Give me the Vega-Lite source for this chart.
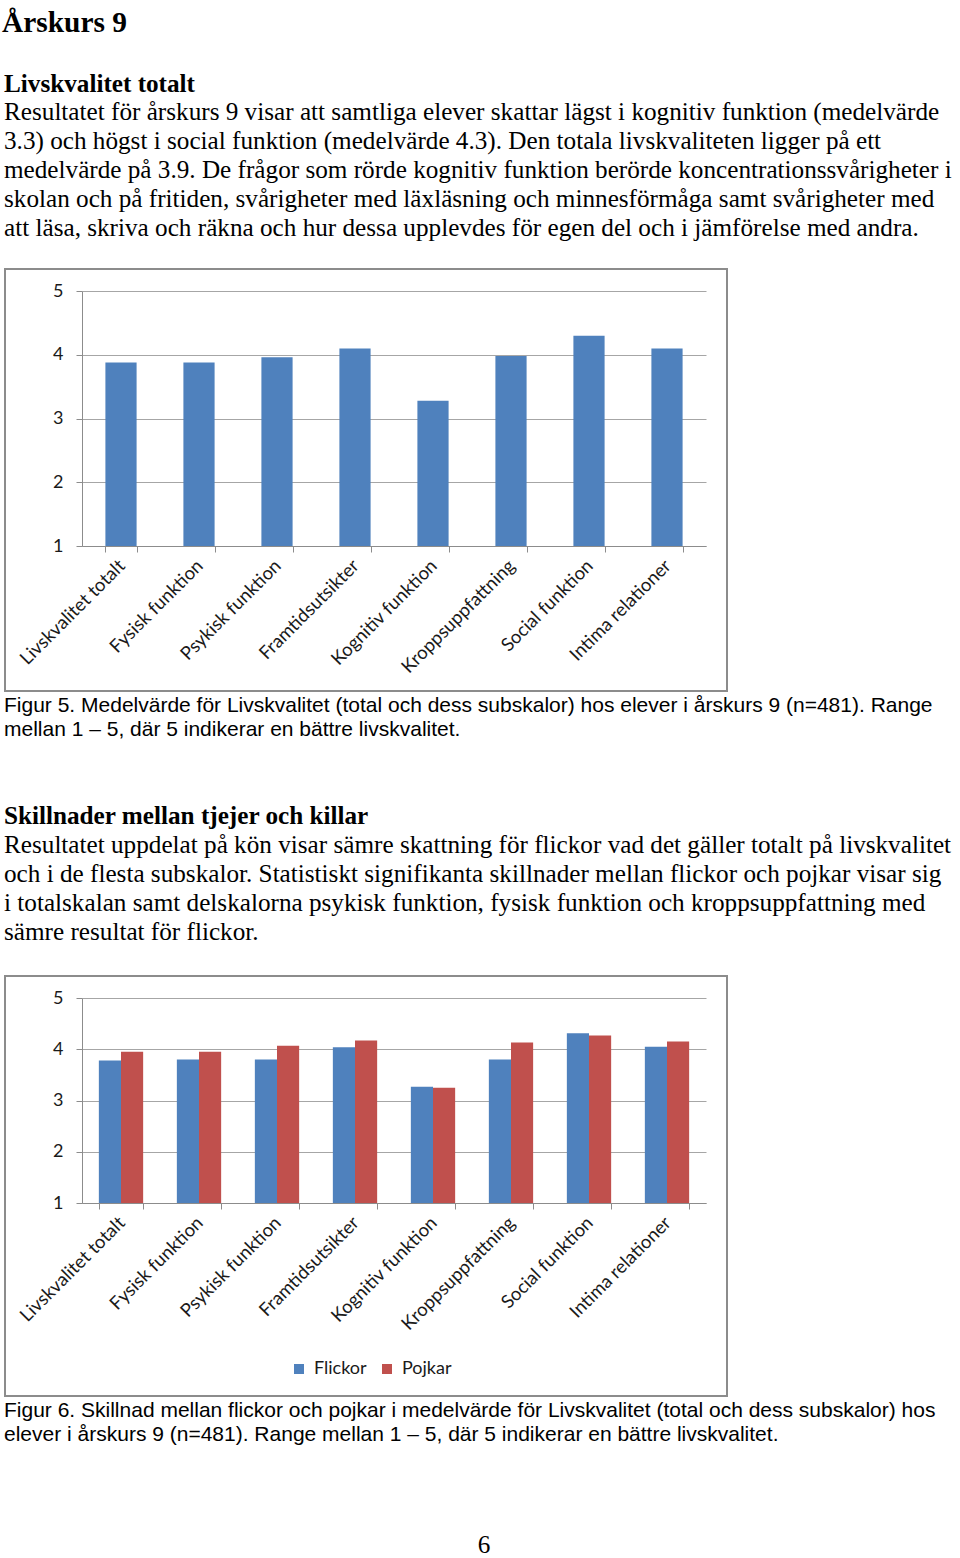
{
  "$schema": "https://vega.github.io/schema/vega-lite/v6.json",
  "background": "white",
  "padding": {"left": 2, "top": 8, "right": 0, "bottom": 0},
  "spacing": 3,
  "title": {"text": "Årskurs 9", "anchor": "start", "font": "Liberation Serif", "fontSize": 29.4, "fontWeight": "bold", "color": "#000000", "offset": 32, "dx": -1},
  "datasets": {
    "overall": [
      {"skala": "Livskvalitet totalt", "medel": 3.88},
      {"skala": "Fysisk funktion", "medel": 3.88},
      {"skala": "Psykisk funktion", "medel": 3.96},
      {"skala": "Framtidsutsikter", "medel": 4.10},
      {"skala": "Kognitiv funktion", "medel": 3.28},
      {"skala": "Kroppsuppfattning", "medel": 3.98},
      {"skala": "Social funktion", "medel": 4.30},
      {"skala": "Intima relationer", "medel": 4.10}
    ],
    "kon": [
      {"skala": "Livskvalitet totalt", "kon": "Flickor", "medel": 3.78},
      {"skala": "Livskvalitet totalt", "kon": "Pojkar", "medel": 3.95},
      {"skala": "Fysisk funktion", "kon": "Flickor", "medel": 3.80},
      {"skala": "Fysisk funktion", "kon": "Pojkar", "medel": 3.95},
      {"skala": "Psykisk funktion", "kon": "Flickor", "medel": 3.80},
      {"skala": "Psykisk funktion", "kon": "Pojkar", "medel": 4.07},
      {"skala": "Framtidsutsikter", "kon": "Flickor", "medel": 4.04},
      {"skala": "Framtidsutsikter", "kon": "Pojkar", "medel": 4.17},
      {"skala": "Kognitiv funktion", "kon": "Flickor", "medel": 3.27},
      {"skala": "Kognitiv funktion", "kon": "Pojkar", "medel": 3.25},
      {"skala": "Kroppsuppfattning", "kon": "Flickor", "medel": 3.80},
      {"skala": "Kroppsuppfattning", "kon": "Pojkar", "medel": 4.13},
      {"skala": "Social funktion", "kon": "Flickor", "medel": 4.31},
      {"skala": "Social funktion", "kon": "Pojkar", "medel": 4.27},
      {"skala": "Intima relationer", "kon": "Flickor", "medel": 4.05},
      {"skala": "Intima relationer", "kon": "Pojkar", "medel": 4.15}
    ]
  },
  "vconcat": [
    {
      "width": 722,
      "height": 422,
      "view": {"stroke": "#8c8c8c", "strokeWidth": 2},
      "title": {
        "text": "Livskvalitet totalt",
        "subtitle": [
          "Resultatet för årskurs 9 visar att samtliga elever skattar lägst i kognitiv funktion (medelvärde",
          "3.3) och högst i social funktion (medelvärde 4.3). Den totala livskvaliteten ligger på ett",
          "medelvärde på 3.9. De frågor som rörde kognitiv funktion berörde koncentrationssvårigheter i",
          "skolan och på fritiden, svårigheter med läxläsning och minnesförmåga samt svårigheter med",
          "att läsa, skriva och räkna och hur dessa upplevdes för egen del och i jämförelse med andra."
        ],
        "anchor": "start",
        "dx": -1,
        "font": "Liberation Serif",
        "fontSize": 25.2,
        "fontWeight": "bold",
        "color": "#000000",
        "subtitleFont": "Liberation Serif",
        "subtitleFontSize": 25.2,
        "subtitleFontWeight": "normal",
        "subtitleColor": "#000000",
        "subtitleLineHeight": 29,
        "subtitlePadding": 3,
        "offset": 28
      },
      "data": {"name": "overall"},
      "mark": {"type": "bar", "color": "#4f81bd"},
      "encoding": {
        "x": {
          "field": "skala", "type": "nominal", "sort": null,
          "scale": {"range": [77, 701], "paddingInner": 0.6, "paddingOuter": 0.3},
          "axis": {"title": null, "orient": "bottom", "offset": -145, "labelAngle": -45, "labelFont": "Lato", "labelFontSize": 18.5, "labelColor": "#1a1a1a", "labelPadding": 4, "labelOffset": -6, "tickBand": "extent", "tickSize": 6, "tickColor": "#8c8c8c", "domainColor": "#8c8c8c", "grid": false}
        },
        "y": {
          "field": "medel", "type": "quantitative",
          "scale": {"domain": [1, 5], "range": [277, 22], "nice": false, "zero": false},
          "axis": {"title": null, "values": [1, 2, 3, 4, 5], "offset": -77, "grid": true, "gridColor": "#a6a6a6", "tickSize": 6, "tickColor": "#8c8c8c", "domainColor": "#8c8c8c", "labelFont": "Lato", "labelFontSize": 18, "labelColor": "#1a1a1a", "labelPadding": 13}
        },
        "y2": {"datum": 1}
      }
    },
    {
      "width": 722,
      "height": 51,
      "view": {"stroke": null},
      "title": {
        "text": [
          "Figur 5. Medelvärde för Livskvalitet (total och dess subskalor) hos elever i årskurs 9 (n=481). Range",
          "mellan 1 – 5, där 5 indikerar en bättre livskvalitet."
        ],
        "anchor": "start",
        "dx": -1,
        "font": "Liberation Sans",
        "fontSize": 21,
        "fontWeight": "normal",
        "color": "#000000",
        "lineHeight": 24,
        "offset": 8
      },
      "data": {"values": []},
      "mark": "point"
    },
    {
      "width": 722,
      "height": 420,
      "view": {"stroke": "#8c8c8c", "strokeWidth": 2},
      "title": {
        "text": "Skillnader mellan tjejer och killar",
        "subtitle": [
          "Resultatet uppdelat på kön visar sämre skattning för flickor vad det gäller totalt på livskvalitet",
          "och i de flesta subskalor. Statistiskt signifikanta skillnader mellan flickor och pojkar visar sig",
          "i totalskalan samt delskalorna psykisk funktion, fysisk funktion och kroppsuppfattning med",
          "sämre resultat för flickor."
        ],
        "anchor": "start",
        "dx": -1,
        "font": "Liberation Serif",
        "fontSize": 25.2,
        "fontWeight": "bold",
        "color": "#000000",
        "subtitleFont": "Liberation Serif",
        "subtitleFontSize": 25.2,
        "subtitleFontWeight": "normal",
        "subtitleColor": "#000000",
        "subtitleLineHeight": 29,
        "subtitlePadding": 4,
        "offset": 31
      },
      "data": {"name": "kon"},
      "mark": {"type": "bar"},
      "encoding": {
        "x": {
          "field": "skala", "type": "nominal", "sort": null,
          "scale": {"range": [77, 701], "paddingInner": 0.432, "paddingOuter": 0.216},
          "axis": {"title": null, "orient": "bottom", "offset": -193, "labelAngle": -45, "labelFont": "Lato", "labelFontSize": 18.5, "labelColor": "#1a1a1a", "labelPadding": 4, "labelOffset": -6, "tickBand": "extent", "tickSize": 6, "tickColor": "#8c8c8c", "domainColor": "#8c8c8c", "grid": false}
        },
        "xOffset": {"field": "kon", "type": "nominal", "sort": ["Flickor", "Pojkar"], "scale": {"paddingInner": 0, "paddingOuter": 0}},
        "y": {
          "field": "medel", "type": "quantitative",
          "scale": {"domain": [1, 5], "range": [227, 22], "nice": false, "zero": false},
          "axis": {"title": null, "values": [1, 2, 3, 4, 5], "offset": -77, "grid": true, "gridColor": "#a6a6a6", "tickSize": 6, "tickColor": "#8c8c8c", "domainColor": "#8c8c8c", "labelFont": "Lato", "labelFontSize": 18, "labelColor": "#1a1a1a", "labelPadding": 13}
        },
        "y2": {"datum": 1},
        "color": {
          "field": "kon", "type": "nominal",
          "scale": {"domain": ["Flickor", "Pojkar"], "range": ["#4f81bd", "#c0504d"]},
          "legend": {"title": null, "orient": "none", "legendX": 285, "legendY": 1091, "direction": "horizontal", "symbolType": "square", "symbolSize": 100, "symbolStrokeWidth": 0, "labelFont": "Lato", "labelFontSize": 18, "labelColor": "#1a1a1a", "labelOffset": 6, "columnPadding": 11}
        }
      }
    },
    {
      "width": 722,
      "height": 79,
      "view": {"stroke": null},
      "title": {
        "text": [
          "Figur 6. Skillnad mellan flickor och pojkar i medelvärde för Livskvalitet (total och dess subskalor) hos",
          "elever i årskurs 9 (n=481). Range mellan 1 – 5, där 5 indikerar en bättre livskvalitet."
        ],
        "anchor": "start",
        "dx": -1,
        "font": "Liberation Sans",
        "fontSize": 21,
        "fontWeight": "normal",
        "color": "#000000",
        "lineHeight": 24,
        "offset": 5
      },
      "data": {"values": []},
      "mark": "point"
    },
    {
      "width": 950,
      "height": 1,
      "view": {"stroke": null},
      "title": {
        "text": "6",
        "anchor": "middle",
        "dx": 4,
        "font": "Liberation Serif",
        "fontSize": 25.2,
        "fontWeight": "normal",
        "color": "#000000",
        "offset": 0
      },
      "data": {"values": []},
      "mark": "point"
    }
  ]
}
